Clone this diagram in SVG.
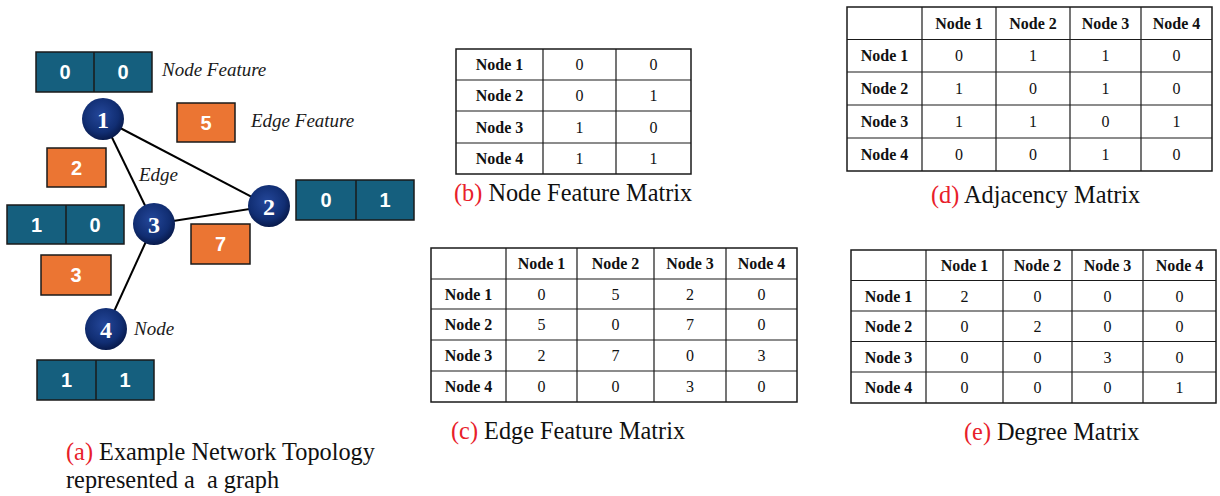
<svg xmlns="http://www.w3.org/2000/svg" width="1220" height="496" viewBox="0 0 1220 496">
<style>
.bg{fill:#ffffff}
.fb{fill:#155f7e;stroke:#1a1a1a;stroke-width:1.5}
.eb{fill:#eb7533;stroke:#1a1a1a;stroke-width:1.5}
.dv{stroke:#1a1a1a;stroke-width:1.5}
.bn{font-family:"Liberation Sans",Arial,sans-serif;font-weight:bold;font-size:20px;fill:#ffffff;text-anchor:middle}
.nn{font-family:"Liberation Serif","Times New Roman",serif;font-weight:bold;font-size:24px;fill:#ffffff;text-anchor:middle}
.it{font-family:"Liberation Serif","Times New Roman",serif;font-style:italic;font-size:19px;fill:#1a1a1a}
.edge{stroke:#000000;stroke-width:2;fill:none}
.tb{fill:#ffffff;stroke:#1a1a1a;stroke-width:1.5}
.tl{stroke:#1a1a1a;stroke-width:1.2}
.th{font-family:"Liberation Serif","Times New Roman",serif;font-weight:bold;font-size:16px;fill:#111;text-anchor:middle}
.tv{font-family:"Liberation Serif","Times New Roman",serif;font-size:16px;fill:#111;text-anchor:middle}
.cap{font-family:"Liberation Serif","Times New Roman",serif;font-size:24.3px;fill:#111}
.red{fill:#e8202a}
</style>
<defs>
<radialGradient id="sph" cx="0.45" cy="0.4" r="0.6">
<stop offset="0" stop-color="#24479a"/>
<stop offset="0.7" stop-color="#112e73"/>
<stop offset="1" stop-color="#081a4c"/>
</radialGradient>
</defs>
<rect class="bg" x="0" y="0" width="1220" height="496"/>

<g id="connectors">
<line class="edge" x1="103" y1="119" x2="269" y2="206"/>
<line class="edge" x1="103" y1="119" x2="154" y2="224"/>
<line class="edge" x1="154" y1="224" x2="269" y2="206"/>
<line class="edge" x1="154" y1="224" x2="106" y2="329"/>
</g>

<g id="node1">
<circle cx="103" cy="119" r="21" fill="url(#sph)"/>
<text class="nn" x="103" y="127.5">1</text>
</g>
<g id="node2">
<circle cx="269" cy="206" r="21" fill="url(#sph)"/>
<text class="nn" x="269" y="214.5">2</text>
</g>
<g id="node3">
<circle cx="154" cy="224" r="21" fill="url(#sph)"/>
<text class="nn" x="154" y="232.5">3</text>
</g>
<g id="node4">
<circle cx="106" cy="329" r="21" fill="url(#sph)"/>
<text class="nn" x="106" y="337.5">4</text>
</g>

<g id="feat1">
<rect class="fb" x="36" y="52" width="116" height="40"/>
<line class="dv" x1="94" y1="52" x2="94" y2="92"/>
<text class="bn" x="65" y="79">0</text>
<text class="bn" x="123" y="79">0</text>
</g>
<g id="feat2">
<rect class="fb" x="296" y="180" width="118" height="40"/>
<line class="dv" x1="356" y1="180" x2="356" y2="220"/>
<text class="bn" x="326" y="207">0</text>
<text class="bn" x="385" y="207">1</text>
</g>
<g id="feat3">
<rect class="fb" x="7" y="205" width="117" height="39"/>
<line class="dv" x1="66" y1="205" x2="66" y2="244"/>
<text class="bn" x="36.5" y="231.5">1</text>
<text class="bn" x="95" y="231.5">0</text>
</g>
<g id="feat4">
<rect class="fb" x="37" y="360" width="117" height="40"/>
<line class="dv" x1="96" y1="360" x2="96" y2="400"/>
<text class="bn" x="66.5" y="387">1</text>
<text class="bn" x="125" y="387">1</text>
</g>

<g id="edgefeat5">
<rect class="eb" x="177" y="103" width="58" height="39"/>
<text class="bn" x="206" y="129.5">5</text>
</g>
<g id="edgefeat2">
<rect class="eb" x="47" y="148" width="59" height="39"/>
<text class="bn" x="76.5" y="174.5">2</text>
</g>
<g id="edgefeat7">
<rect class="eb" x="191" y="224" width="59" height="40"/>
<text class="bn" x="220.5" y="251">7</text>
</g>
<g id="edgefeat3">
<rect class="eb" x="41" y="255" width="70" height="40"/>
<text class="bn" x="76" y="282">3</text>
</g>

<g id="labels">
<text class="it" x="162" y="76">Node Feature</text>
<text class="it" x="251" y="127">Edge Feature</text>
<text class="it" x="139" y="181">Edge</text>
<text class="it" x="134" y="335">Node</text>
<text class="cap" x="66" y="460"><tspan class="red">(a)</tspan> Example Network Topology</text>
<text class="cap" x="66" y="488" style="white-space:pre">represented a  a graph</text>
</g>

<g id="tableB">
<rect class="tb" x="456" y="49" width="235" height="125"/>
<line class="tl" x1="543" y1="49" x2="543" y2="174"/>
<line class="tl" x1="616" y1="49" x2="616" y2="174"/>
<line class="tl" x1="456" y1="80" x2="691" y2="80"/>
<line class="tl" x1="456" y1="111" x2="691" y2="111"/>
<line class="tl" x1="456" y1="143" x2="691" y2="143"/>
<text class="th" x="499.5" y="70">Node 1</text>
<text class="th" x="499.5" y="101">Node 2</text>
<text class="th" x="499.5" y="132.5">Node 3</text>
<text class="th" x="499.5" y="164">Node 4</text>
<text class="tv" x="579.5" y="70">0</text><text class="tv" x="653.5" y="70">0</text>
<text class="tv" x="579.5" y="101">0</text><text class="tv" x="653.5" y="101">1</text>
<text class="tv" x="579.5" y="132.5">1</text><text class="tv" x="653.5" y="132.5">0</text>
<text class="tv" x="579.5" y="164">1</text><text class="tv" x="653.5" y="164">1</text>
<text class="cap" x="454" y="201"><tspan class="red">(b)</tspan> Node Feature Matrix</text>
</g>

<g id="tableD">
<rect class="tb" x="847" y="7" width="365" height="164"/>
<line class="tl" x1="922" y1="7" x2="922" y2="171"/>
<line class="tl" x1="996" y1="7" x2="996" y2="171"/>
<line class="tl" x1="1070" y1="7" x2="1070" y2="171"/>
<line class="tl" x1="1141" y1="7" x2="1141" y2="171"/>
<line class="tl" x1="847" y1="39.5" x2="1212" y2="39.5"/>
<line class="tl" x1="847" y1="72" x2="1212" y2="72"/>
<line class="tl" x1="847" y1="105" x2="1212" y2="105"/>
<line class="tl" x1="847" y1="138" x2="1212" y2="138"/>
<text class="th" x="959" y="28.5">Node 1</text>
<text class="th" x="1033" y="28.5">Node 2</text>
<text class="th" x="1105.5" y="28.5">Node 3</text>
<text class="th" x="1176.5" y="28.5">Node 4</text>
<text class="th" x="884.5" y="61">Node 1</text>
<text class="th" x="884.5" y="93.5">Node 2</text>
<text class="th" x="884.5" y="126.5">Node 3</text>
<text class="th" x="884.5" y="159.5">Node 4</text>
<text class="tv" x="959" y="61">0</text><text class="tv" x="1033" y="61">1</text><text class="tv" x="1105.5" y="61">1</text><text class="tv" x="1176.5" y="61">0</text>
<text class="tv" x="959" y="93.5">1</text><text class="tv" x="1033" y="93.5">0</text><text class="tv" x="1105.5" y="93.5">1</text><text class="tv" x="1176.5" y="93.5">0</text>
<text class="tv" x="959" y="126.5">1</text><text class="tv" x="1033" y="126.5">1</text><text class="tv" x="1105.5" y="126.5">0</text><text class="tv" x="1176.5" y="126.5">1</text>
<text class="tv" x="959" y="159.5">0</text><text class="tv" x="1033" y="159.5">0</text><text class="tv" x="1105.5" y="159.5">1</text><text class="tv" x="1176.5" y="159.5">0</text>
<text class="cap" x="931" y="203"><tspan class="red">(d)</tspan> Adjacency Matrix</text>
</g>

<g id="tableC">
<rect class="tb" x="431" y="248" width="366" height="154"/>
<line class="tl" x1="506" y1="248" x2="506" y2="402"/>
<line class="tl" x1="577" y1="248" x2="577" y2="402"/>
<line class="tl" x1="654" y1="248" x2="654" y2="402"/>
<line class="tl" x1="726" y1="248" x2="726" y2="402"/>
<line class="tl" x1="431" y1="279" x2="797" y2="279"/>
<line class="tl" x1="431" y1="309" x2="797" y2="309"/>
<line class="tl" x1="431" y1="340" x2="797" y2="340"/>
<line class="tl" x1="431" y1="371" x2="797" y2="371"/>
<text class="th" x="541.5" y="269">Node 1</text>
<text class="th" x="615.5" y="269">Node 2</text>
<text class="th" x="690" y="269">Node 3</text>
<text class="th" x="761.5" y="269">Node 4</text>
<text class="th" x="468.5" y="299.5">Node 1</text>
<text class="th" x="468.5" y="330">Node 2</text>
<text class="th" x="468.5" y="361">Node 3</text>
<text class="th" x="468.5" y="392">Node 4</text>
<text class="tv" x="541.5" y="299.5">0</text><text class="tv" x="615.5" y="299.5">5</text><text class="tv" x="690" y="299.5">2</text><text class="tv" x="761.5" y="299.5">0</text>
<text class="tv" x="541.5" y="330">5</text><text class="tv" x="615.5" y="330">0</text><text class="tv" x="690" y="330">7</text><text class="tv" x="761.5" y="330">0</text>
<text class="tv" x="541.5" y="361">2</text><text class="tv" x="615.5" y="361">7</text><text class="tv" x="690" y="361">0</text><text class="tv" x="761.5" y="361">3</text>
<text class="tv" x="541.5" y="392">0</text><text class="tv" x="615.5" y="392">0</text><text class="tv" x="690" y="392">3</text><text class="tv" x="761.5" y="392">0</text>
<text class="cap" x="451" y="439"><tspan class="red">(c)</tspan> Edge Feature Matrix</text>
</g>

<g id="tableE">
<rect class="tb" x="851" y="250" width="365" height="153"/>
<line class="tl" x1="926" y1="250" x2="926" y2="403"/>
<line class="tl" x1="1003" y1="250" x2="1003" y2="403"/>
<line class="tl" x1="1072" y1="250" x2="1072" y2="403"/>
<line class="tl" x1="1143" y1="250" x2="1143" y2="403"/>
<line class="tl" x1="851" y1="280.5" x2="1216" y2="280.5"/>
<line class="tl" x1="851" y1="311" x2="1216" y2="311"/>
<line class="tl" x1="851" y1="341.5" x2="1216" y2="341.5"/>
<line class="tl" x1="851" y1="372" x2="1216" y2="372"/>
<text class="th" x="964.5" y="271">Node 1</text>
<text class="th" x="1037.5" y="271">Node 2</text>
<text class="th" x="1107.5" y="271">Node 3</text>
<text class="th" x="1179.5" y="271">Node 4</text>
<text class="th" x="888.5" y="301.5">Node 1</text>
<text class="th" x="888.5" y="332">Node 2</text>
<text class="th" x="888.5" y="362.5">Node 3</text>
<text class="th" x="888.5" y="393">Node 4</text>
<text class="tv" x="964.5" y="301.5">2</text><text class="tv" x="1037.5" y="301.5">0</text><text class="tv" x="1107.5" y="301.5">0</text><text class="tv" x="1179.5" y="301.5">0</text>
<text class="tv" x="964.5" y="332">0</text><text class="tv" x="1037.5" y="332">2</text><text class="tv" x="1107.5" y="332">0</text><text class="tv" x="1179.5" y="332">0</text>
<text class="tv" x="964.5" y="362.5">0</text><text class="tv" x="1037.5" y="362.5">0</text><text class="tv" x="1107.5" y="362.5">3</text><text class="tv" x="1179.5" y="362.5">0</text>
<text class="tv" x="964.5" y="393">0</text><text class="tv" x="1037.5" y="393">0</text><text class="tv" x="1107.5" y="393">0</text><text class="tv" x="1179.5" y="393">1</text>
<text class="cap" x="964" y="440"><tspan class="red">(e)</tspan> Degree Matrix</text>
</g>
</svg>
